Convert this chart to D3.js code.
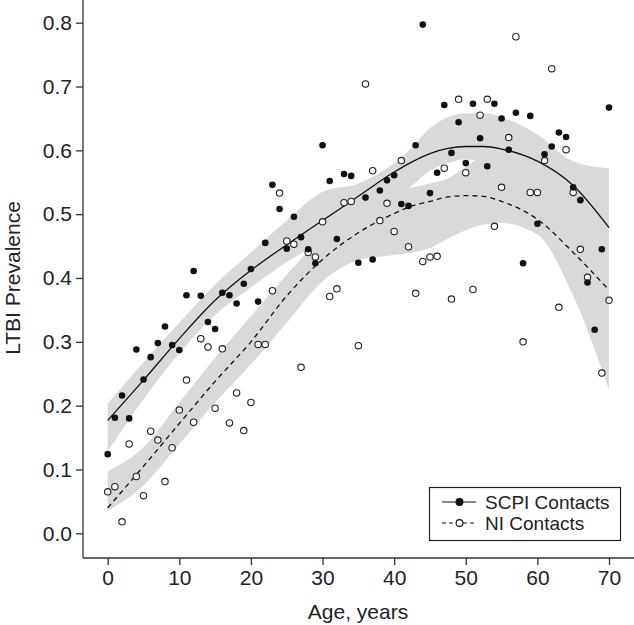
<!DOCTYPE html>
<html><head><meta charset="utf-8">
<script src="https://cdn.jsdelivr.net/npm/d3@7"></script>
<style>html,body{margin:0;padding:0;background:#fff}svg{display:block}text{font-family:"Liberation Sans",Arial,sans-serif;fill:#222}</style>
</head><body>
<script>
// ---- data ----
const ages = d3.range(0, 71);
const scpiValues = [0.124,0.181,0.216,0.180,0.288,0.241,0.276,0.298,0.324,0.295,0.287,0.373,0.411,0.372,0.331,0.320,0.377,0.373,0.360,0.391,0.414,0.363,0.455,0.546,0.508,0.446,0.496,0.464,0.445,0.423,0.608,0.552,0.461,0.563,0.560,0.424,0.526,0.429,0.537,0.553,0.561,0.516,0.513,0.608,0.797,0.533,0.565,0.671,0.596,0.644,0.580,0.673,0.619,0.575,0.673,0.650,0.601,0.659,0.423,0.654,0.485,0.594,0.606,0.628,0.621,0.542,0.522,0.393,0.319,0.445,0.667];
const niValues = [0.065,0.073,0.018,0.140,0.089,0.059,0.160,0.146,0.081,0.134,0.193,0.240,0.174,0.305,0.292,0.196,0.289,0.173,0.220,0.161,0.205,0.296,0.296,0.380,0.533,0.458,0.453,0.260,0.440,0.433,0.488,0.371,0.383,0.518,0.520,0.294,0.704,0.568,0.490,0.517,0.473,0.584,0.449,0.376,0.426,0.433,0.434,0.572,0.367,0.680,0.565,0.382,0.655,0.680,0.481,0.542,0.620,0.778,0.300,0.534,0.534,0.584,0.728,0.354,0.601,0.534,0.445,0.401,null,0.251,0.365];
const fitAges   = [0,5,10,15,20,25,30,35,40,42.5,45,47.5,50,52.5,55,60,65,70];
const scpiFit   = [0.177,0.240,0.305,0.365,0.412,0.452,0.490,0.528,0.566,0.582,0.595,0.603,0.606,0.606,0.602,0.583,0.545,0.479];
const scpiUpper = [0.203,0.268,0.330,0.390,0.440,0.490,0.535,0.548,0.580,0.605,0.635,0.652,0.658,0.658,0.652,0.625,0.583,0.572];
const scpiLower = [0.128,0.210,0.282,0.342,0.385,0.425,0.457,0.495,0.525,0.545,0.568,0.580,0.586,0.580,0.565,0.530,0.490,0.400];
const niFit     = [0.040,0.105,0.172,0.238,0.300,0.372,0.429,0.471,0.501,0.513,0.520,0.527,0.529,0.528,0.520,0.492,0.440,0.381];
const niUpper   = [0.097,0.135,0.205,0.275,0.340,0.405,0.465,0.510,0.535,0.542,0.548,0.556,0.574,0.590,0.590,0.575,0.545,0.550];
const niLower   = [0.035,0.075,0.140,0.205,0.265,0.330,0.395,0.428,0.436,0.440,0.447,0.462,0.475,0.484,0.486,0.468,0.372,0.225];
const xTicks = [0,10,20,30,40,50,60,70];
const yTicks = [0,0.1,0.2,0.3,0.4,0.5,0.6,0.7,0.8];
const seriesNames = ["SCPI Contacts","NI Contacts"];

// ---- drawing ----
const W = 634, H = 625;
const svg = d3.select("body").append("svg").attr("width", W).attr("height", H);
const x = d3.scaleLinear().domain([0,70]).range([107.7,609]);
const y = d3.scaleLinear().domain([0,0.8]).range([533.3,22.7]);
const axisX = 83, axisY = 558;

function band(up, lo){
  return d3.area().x((d,i)=>x(fitAges[i])).y0((d,i)=>y(lo[i])).y1((d,i)=>y(up[i])).curve(d3.curveMonotoneX)(fitAges);
}
svg.append("path").attr("d", band(niUpper, niLower)).attr("fill","#d9d9d9");
svg.append("path").attr("d", band(scpiUpper, scpiLower)).attr("fill","#d9d9d9");

const line = d3.line().x((d,i)=>x(fitAges[i])).y(d=>y(d)).curve(d3.curveMonotoneX);
svg.append("path").attr("d", line(scpiFit)).attr("fill","none").attr("stroke","#111").attr("stroke-width",1.3);
svg.append("path").attr("d", line(niFit)).attr("fill","none").attr("stroke","#111").attr("stroke-width",1.3).attr("stroke-dasharray","5,4");

// points
svg.append("g").selectAll("circle").data(ages.filter((a,i)=>niValues[i]!=null)).join("circle")
  .attr("cx", a=>x(a)).attr("cy", a=>y(niValues[a])).attr("r",3.2)
  .attr("fill","#fff").attr("stroke","#222").attr("stroke-width",1.1);
svg.append("g").selectAll("circle").data(ages).join("circle")
  .attr("cx", a=>x(a)).attr("cy", a=>y(scpiValues[a])).attr("r",3.3).attr("fill","#111");

// axes
const gx = svg.append("g").attr("transform",`translate(0,${axisY})`)
  .call(d3.axisBottom(x).tickValues(xTicks).tickSize(7).tickPadding(5).tickFormat(d3.format("d")));
gx.select(".domain").remove();
gx.append("line").attr("x1",axisX).attr("x2",W).attr("stroke","#333").attr("stroke-width",1.3);
const gy = svg.append("g").attr("transform",`translate(${axisX},0)`)
  .call(d3.axisLeft(y).tickValues(yTicks).tickSize(7).tickPadding(4).tickFormat(d3.format(".1f")));
gy.select(".domain").remove();
gy.append("line").attr("y1",0).attr("y2",axisY).attr("stroke","#333").attr("stroke-width",1.3);
svg.selectAll(".tick line").attr("stroke","#333").attr("stroke-width",1.3);
svg.selectAll(".tick text").attr("font-size",21).attr("font-family","Liberation Sans, Arial, sans-serif").attr("fill","#222");

svg.append("text").attr("x",358).attr("y",619).attr("text-anchor","middle").attr("font-size",21).text("Age, years");
svg.append("text").attr("transform","translate(20,278) rotate(-90)").attr("text-anchor","middle").attr("font-size",21).text("LTBI Prevalence");

// legend
const lg = svg.append("g");
lg.append("rect").attr("x",429.5).attr("y",487.5).attr("width",191).attr("height",53).attr("fill","#fff").attr("stroke","#222").attr("stroke-width",1.2);
const rows = [{n:seriesNames[0],yy:502,dash:null,fill:"#111"},{n:seriesNames[1],yy:523,dash:"4,3",fill:"#fff"}];
rows.forEach(r=>{
  lg.append("line").attr("x1",442).attr("x2",476).attr("y1",r.yy).attr("y2",r.yy).attr("stroke","#111").attr("stroke-width",1.2).attr("stroke-dasharray",r.dash);
  lg.append("circle").attr("cx",459.5).attr("cy",r.yy).attr("r",3.4).attr("fill",r.fill).attr("stroke","#111").attr("stroke-width",1.1);
  lg.append("text").attr("x",485).attr("y",r.yy+7).attr("font-size",19).text(r.n);
});
</script>
</body></html>
